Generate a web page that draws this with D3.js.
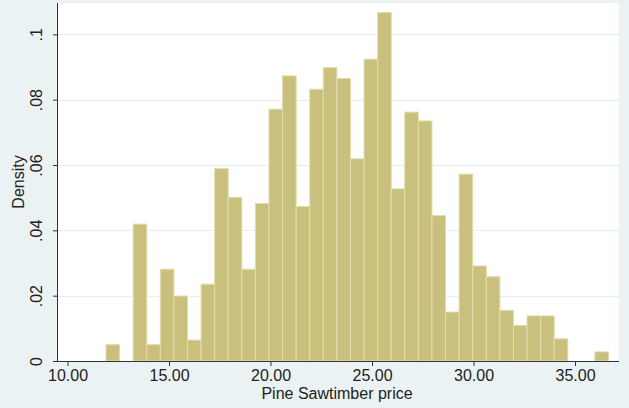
<!DOCTYPE html>
<html>
<head>
<meta charset="utf-8">
<script src="https://cdn.jsdelivr.net/npm/d3@7"></script>
<style>
  html, body { margin: 0; padding: 0; background: #eaf2f3; }
  svg { display: block; }
  text { font-family: "Liberation Sans", Arial, sans-serif; fill: #222; }
</style>
</head>
<body>
<svg id="chart" width="629" height="408"></svg>
<script>
// ---- data ----
const binStart = 11.897;
const binWidth = 0.669;
const densities = [
  0.0050, 0.0000, 0.0419, 0.0050, 0.0281, 0.0199, 0.0064, 0.0235, 0.0589, 0.0501,
  0.0281, 0.0482, 0.0771, 0.0873, 0.0473, 0.0832, 0.0898, 0.0865, 0.0619, 0.0924,
  0.1067, 0.0527, 0.0762, 0.0735, 0.0445, 0.0150, 0.0572, 0.0291, 0.0258, 0.0155,
  0.0109, 0.0138, 0.0138, 0.0068, 0.0000, 0.0000, 0.0028
];
const xTicks = [10, 15, 20, 25, 30, 35];
const xTickLabels = ["10.00", "15.00", "20.00", "25.00", "30.00", "35.00"];
const yTicks = [0, 0.02, 0.04, 0.06, 0.08, 0.1];
const yTickLabels = ["0", ".02", ".04", ".06", ".08", ".1"];
const xTitle = "Pine Sawtimber price";
const yTitle = "Density";

const bins = densities.map((d, i) => ({ x0: binStart + i * binWidth, x1: binStart + (i + 1) * binWidth, d }));

// ---- layout ----
const svg = d3.select("#chart");
const L = 58, R = 619, T = 3, B = 361;

const x = d3.scaleLinear().domain([9.532, 37.167]).range([L, R]);
const y = d3.scaleLinear().domain([0, 0.1096]).range([B, T]);

// plot area
svg.append("rect").attr("x", L).attr("y", T).attr("width", R - L).attr("height", B - T).attr("fill", "#ffffff");

// gridlines
svg.append("g").selectAll("line").data(yTicks.filter(v => v > 0)).join("line")
  .attr("x1", L).attr("x2", R)
  .attr("y1", d => Math.round(y(d)) + 0.5).attr("y2", d => Math.round(y(d)) + 0.5)
  .attr("stroke", "#e6eef0").attr("stroke-width", 1);

// bars
svg.append("g").selectAll("rect").data(bins.filter(b => b.d > 0)).join("rect")
  .attr("x", b => x(b.x0))
  .attr("width", b => x(b.x1) - x(b.x0))
  .attr("y", b => y(b.d))
  .attr("height", b => y(0) - y(b.d))
  .attr("fill", "#c9c07e")
  .attr("stroke", "#e2dcad")
  .attr("stroke-width", 1);

// axes
const xAxis = d3.axisBottom(x).tickValues(xTicks).tickFormat((d, i) => xTickLabels[i]).tickSize(5).tickPadding(4);
const gx = svg.append("g").attr("transform", `translate(0,${B})`).call(xAxis);
gx.select(".domain").attr("stroke", "#333").attr("d", `M${L},0.5H${R}`);
gx.selectAll(".tick line").attr("stroke", "#333");
gx.selectAll(".tick text").attr("font-size", 16).attr("fill", "#222")
  .style("font-family", "'Liberation Sans', Arial, sans-serif");

const yAxis = d3.axisLeft(y).tickValues(yTicks).tickFormat((d, i) => yTickLabels[i]).tickSize(5).tickPadding(4);
const gy = svg.append("g").attr("transform", `translate(${L},0)`).call(yAxis);
gy.select(".domain").attr("stroke", "#333").attr("d", `M-0.5,${T}V${B}`);
gy.selectAll(".tick line").attr("stroke", "#333");
gy.selectAll(".tick text")
  .attr("font-size", 16).attr("fill", "#222")
  .style("font-family", "'Liberation Sans', Arial, sans-serif")
  .attr("x", null)
  .attr("text-anchor", "middle")
  .attr("transform", "translate(-22,0) rotate(-90)")
  .attr("y", 0)
  .attr("dy", "0.36em");

// titles
svg.append("text").attr("x", 337).attr("y", 399)
  .attr("text-anchor", "middle").attr("font-size", 16).text(xTitle);
svg.append("text").attr("transform", `translate(24,${(T + B) / 2}) rotate(-90)`)
  .attr("text-anchor", "middle").attr("font-size", 16).text(yTitle);
</script>
</body>
</html>
